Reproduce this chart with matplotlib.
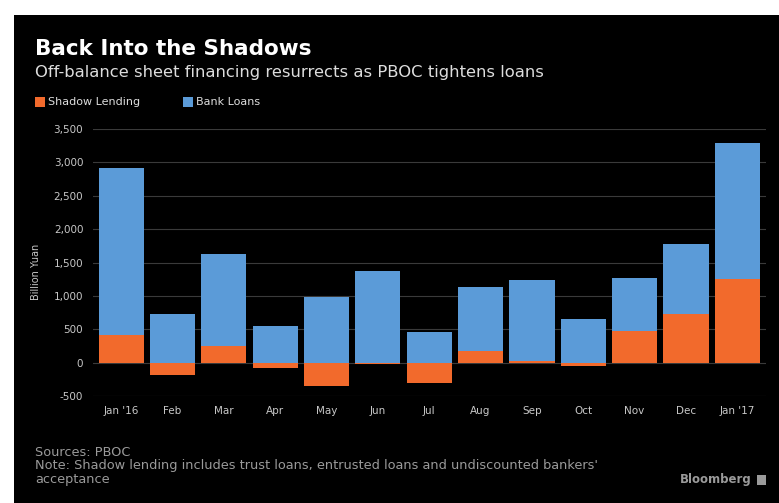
import matplotlib.pyplot as plt
from matplotlib.patches import Rectangle
from matplotlib.ticker import FuncFormatter
import numpy as np

months = ["Jan '16", "Feb", "Mar", "Apr", "May", "Jun", "Jul",
          "Aug", "Sep", "Oct", "Nov", "Dec", "Jan '17"]
shadow = [410, -184, 255, -80, -350, -20, -304, 180, 25, -45, 470, 735, 1255]
bank = [2510, 727, 1370, 556, 985, 1380, 464, 949, 1220, 651, 795, 1040, 2030]

orange = "#f26a2c"
blue = "#5b9bd8"
grey = "#c8c8c8"

W, H = 779, 503
fig = plt.figure(figsize=(W / 100, H / 100), dpi=100, facecolor="white")

# black panel behind everything
fig.patches.append(Rectangle((14 / W, 0), 1 - 14 / W, 1 - 15 / H,
                             transform=fig.transFigure, facecolor="black",
                             edgecolor="none", zorder=-10))

ax = fig.add_axes([93 / W, 1 - 396 / H, (766 - 93) / W, (396 - 129) / H])
ax.set_zorder(1)
ax.set_facecolor("black")

x = np.arange(len(months))
bottoms = [max(s, 0) for s in shadow]
ax.bar(x, shadow, width=0.88, color=orange, zorder=3)
ax.bar(x, bank, width=0.88, bottom=bottoms, color=blue, zorder=3)

ax.set_xlim(-0.55, 12.56)
ax.set_ylim(-500, 3500)
ax.set_yticks(range(-500, 3501, 500))
ax.yaxis.set_major_formatter(FuncFormatter(lambda v, p: f"{int(v):,}"))
ax.grid(axis="y", color="#3a3a3a", linewidth=0.8, zorder=0)
ax.set_xticks(x)
ax.set_xticklabels(months)
for s in ax.spines.values():
    s.set_visible(False)
ax.tick_params(length=0, colors=grey, labelsize=7.5, pad=7)
ax.tick_params(axis="y", pad=7)

fig.text(36 / W, 1 - 272 / H, "Billion Yuan", rotation=90, color=grey,
         fontsize=7, ha="center", va="center")

# titles
fig.text(35 / W, 1 - 55 / H, "Back Into the Shadows", color="white",
         fontsize=15.5, fontweight="bold", va="baseline")
fig.text(35 / W, 1 - 77 / H,
         "Off-balance sheet financing resurrects as PBOC tightens loans",
         color="#dddddd", fontsize=11.8, va="baseline")

# legend
for lx, col, lab in [(35, orange, "Shadow Lending"), (183, blue, "Bank Loans")]:
    fig.patches.append(Rectangle((lx / W, 1 - 107 / H), 10 / W, 10 / H,
                                 transform=fig.transFigure, facecolor=col,
                                 edgecolor="none"))
    fig.text((lx + 13) / W, 1 - 102 / H, lab, color="#dddddd", fontsize=8,
             va="center")

# footer
foot = "#9a9a9a"
fig.text(35 / W, 1 - 452 / H, "Sources: PBOC", color=foot, fontsize=9.3,
         va="center")
fig.text(35 / W, 1 - 466 / H,
         "Note: Shadow lending includes trust loans, entrusted loans and undiscounted bankers'",
         color=foot, fontsize=9.3, va="center")
fig.text(35 / W, 1 - 480 / H, "acceptance", color=foot, fontsize=9.3,
         va="center")
fig.text(752 / W, 1 - 480 / H, "Bloomberg", color=foot, fontsize=8.5,
         fontweight="bold", ha="right", va="center")
fig.patches.append(Rectangle((757 / W, 1 - 485 / H), 9 / W, 10 / H,
                             transform=fig.transFigure, facecolor=foot,
                             edgecolor="none"))

fig.savefig("out.png", dpi=100, facecolor="white")
